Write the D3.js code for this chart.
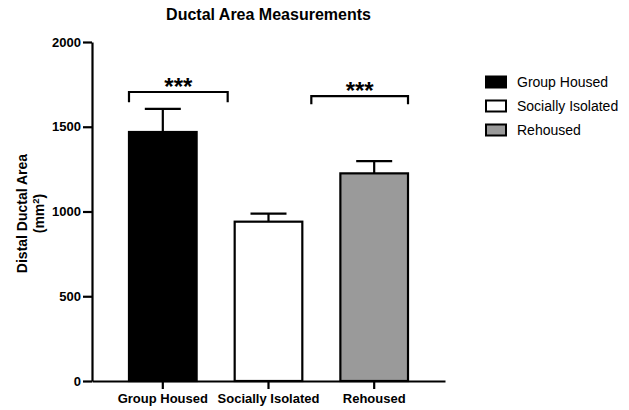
<!DOCTYPE html>
<html>
<head>
<meta charset="utf-8">
<script src="https://cdn.jsdelivr.net/npm/d3@7"></script>
<style>
  html, body { margin: 0; padding: 0; background: #fff; }
  svg { display: block; font-family: "Liberation Sans", Arial, sans-serif; }
</style>
</head>
<body>
<svg id="chart" width="629" height="410"></svg>
<script>
// Group means and SEM of distal ductal area (mm²)
const categories = ["Group Housed", "Socially Isolated", "Rehoused"];
const means = [1469, 940, 1225];
const sems = [136, 47, 72];
const fills = ["#000000", "#ffffff", "#9a9a9a"];
const yTicks = [0, 500, 1000, 1500, 2000];

// Significance comparisons: bracket height (data units) and leg depth
const comparisons = [
  { label: "***", level: 1705, leg: 60 },
  { label: "***", level: 1681, leg: 48 }
];

const svg = d3.select("#chart");
const plotLeft = 92, plotRight = 445, plotTop = 42, plotBottom = 381;

const y = d3.scaleLinear().domain([0, 2000]).range([plotBottom, plotTop]);
const x = d3.scaleBand().domain(categories).range([plotLeft, plotRight])
  .paddingInner(0.36).paddingOuter(0.35);

// Title
svg.append("text")
  .attr("x", (plotLeft + plotRight) / 2).attr("y", 20)
  .attr("text-anchor", "middle")
  .attr("font-size", 16).attr("font-weight", "bold")
  .text("Ductal Area Measurements");

// Y axis
const yAxis = svg.append("g")
  .attr("transform", `translate(${plotLeft},0)`)
  .call(d3.axisLeft(y).tickValues(yTicks).tickFormat(d3.format("d"))
    .tickSize(9).tickSizeOuter(0).tickPadding(2));
yAxis.select(".domain").attr("stroke-width", 2.2);
yAxis.selectAll(".tick line").attr("stroke-width", 2.2);
yAxis.selectAll(".tick text").attr("font-size", 13).attr("font-weight", "bold")
  .attr("font-family", "Liberation Sans, Arial, sans-serif").attr("fill", "#000");

// Y axis title
const yTitle = svg.append("text")
  .attr("transform", `translate(22,${(plotTop + plotBottom) / 2 + 2}) rotate(-90)`)
  .attr("text-anchor", "middle")
  .attr("font-size", 14).attr("font-weight", "bold");
yTitle.append("tspan").attr("x", 0).attr("dy", "0.35em").text("Distal Ductal Area");
const unit = yTitle.append("tspan").attr("x", 0).attr("dy", "1.25em");
unit.append("tspan").text("(mm");
unit.append("tspan").attr("font-size", 9.5).attr("dy", "-0.55em").text("2");
unit.append("tspan").attr("dy", "0.37em").text(")");

// Bars
svg.append("g").selectAll("rect")
  .data(categories)
  .join("rect")
  .attr("x", d => x(d))
  .attr("y", (d, i) => y(means[i]))
  .attr("width", x.bandwidth())
  .attr("height", (d, i) => y(0) - y(means[i]))
  .attr("fill", (d, i) => fills[i])
  .attr("stroke", "#000")
  .attr("stroke-width", 2.2);

// Error bars (upper only)
const capW = 36;
const eb = svg.append("g").attr("stroke", "#000").attr("stroke-width", 2.2);
categories.forEach((c, i) => {
  const cx = x(c) + x.bandwidth() / 2;
  eb.append("line").attr("x1", cx).attr("x2", cx)
    .attr("y1", y(means[i])).attr("y2", y(means[i] + sems[i]));
  eb.append("line").attr("x1", cx - capW / 2).attr("x2", cx + capW / 2)
    .attr("y1", y(means[i] + sems[i])).attr("y2", y(means[i] + sems[i]));
});

// X axis
const xAxis = svg.append("g")
  .attr("transform", `translate(0,${plotBottom})`)
  .call(d3.axisBottom(x).tickSize(8).tickSizeOuter(0).tickPadding(5));
xAxis.select(".domain").attr("stroke-width", 2.2);
xAxis.selectAll(".tick line").attr("stroke-width", 2.2);
xAxis.selectAll(".tick text").attr("font-size", 13).attr("font-weight", "bold")
  .attr("font-family", "Liberation Sans, Arial, sans-serif").attr("fill", "#000");

// Significance brackets
const spans = [
  [x(categories[0]), x(categories[1]) - 7],
  [x(categories[1]) + x.bandwidth() + 9, x(categories[2]) + x.bandwidth()]
];
comparisons.forEach((cmp, i) => {
  const [x1, x2] = spans[i];
  const yl = y(cmp.level), yb = y(cmp.level - cmp.leg);
  svg.append("path")
    .attr("d", `M${x1},${yb}V${yl}H${x2}V${yb}`)
    .attr("fill", "none").attr("stroke", "#000").attr("stroke-width", 2.2);
  svg.append("text")
    .attr("x", (x1 + x2) / 2).attr("y", yl + 3)
    .attr("text-anchor", "middle")
    .attr("font-size", 24).attr("font-weight", "bold")
    .text(cmp.label);
});

// Legend
const legend = svg.append("g").attr("transform", "translate(486,82)");
categories.forEach((c, i) => {
  const g = legend.append("g").attr("transform", `translate(0,${i * 24})`);
  g.append("rect").attr("x", 0).attr("y", -5.5).attr("width", 20).attr("height", 11)
    .attr("fill", fills[i]).attr("stroke", "#000").attr("stroke-width", 2);
  g.append("text").attr("x", 31).attr("y", 0).attr("dy", "0.35em")
    .attr("font-size", 14).text(c);
});
</script>
</body>
</html>
